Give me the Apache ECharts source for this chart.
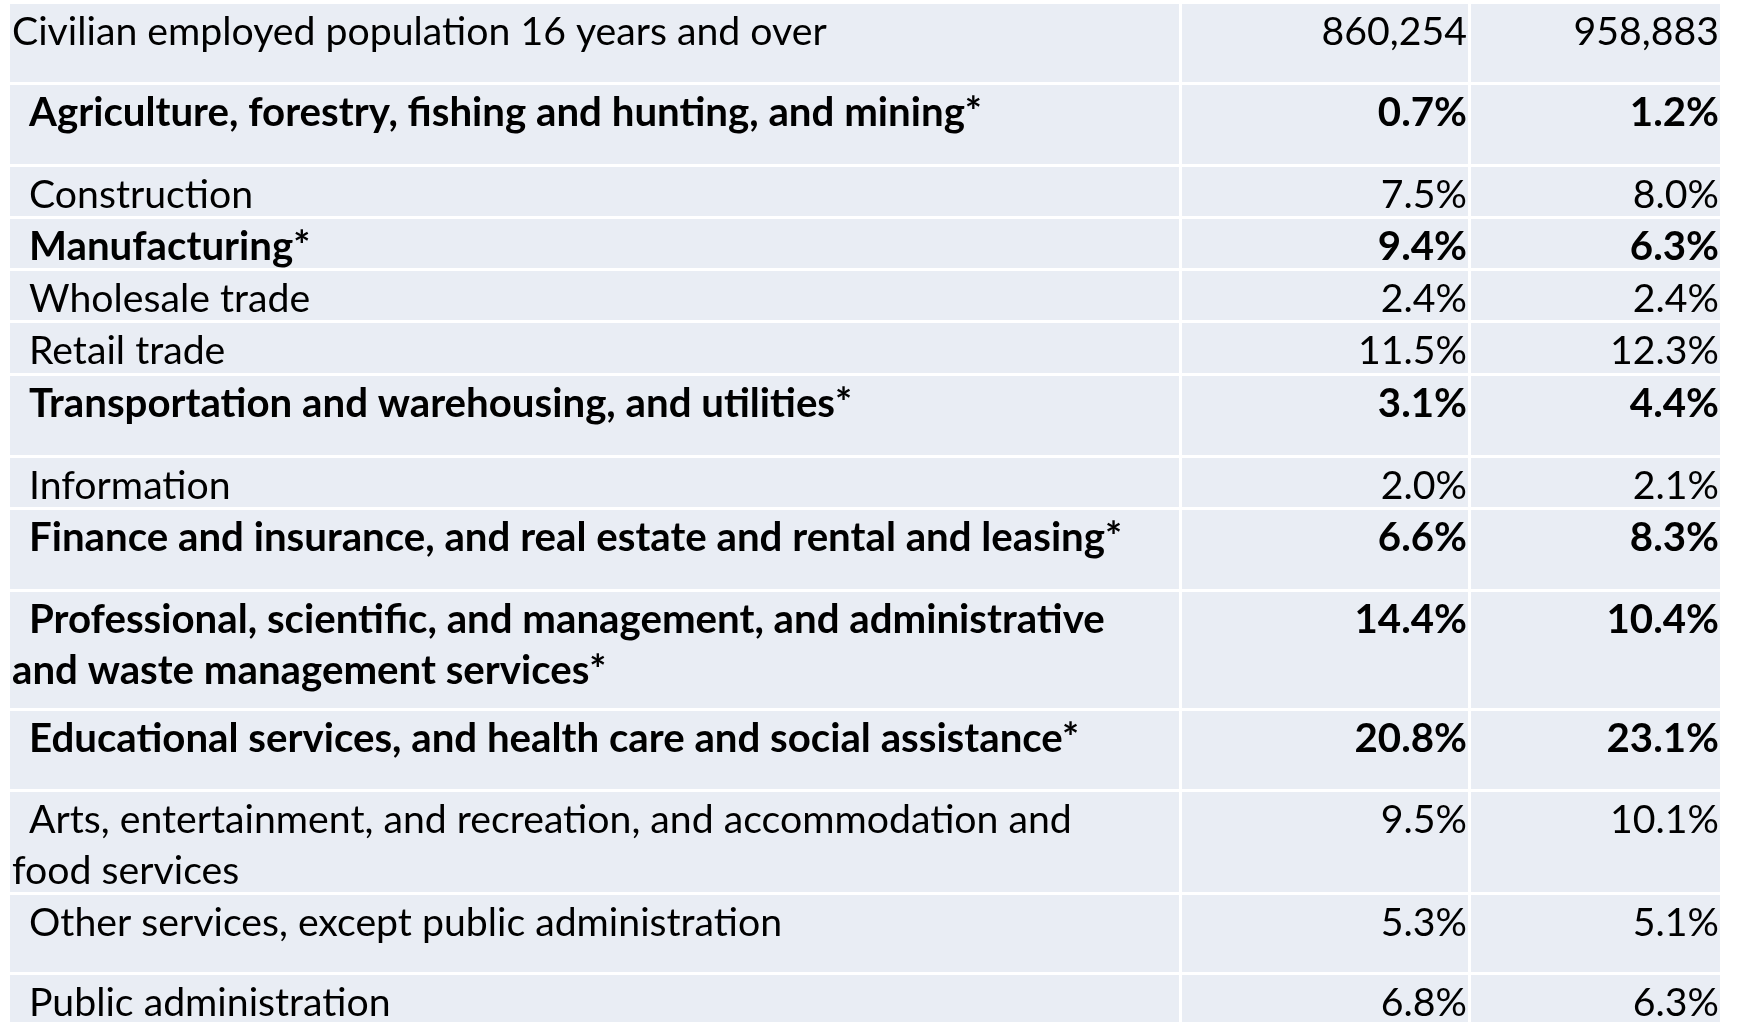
<!DOCTYPE html>
<html>
<head>
<meta charset="utf-8">
<title>Civilian employed population by industry</title>
<script src="https://cdn.jsdelivr.net/npm/echarts@6/dist/echarts.min.js"></script>
<style>
  html, body { margin: 0; padding: 0; background: #ffffff; }
  #main { width: 1739px; height: 1022px; }
</style>
</head>
<body>
<div id="main"></div>
<script>
  // row labels (first row is the total, "*" rows are shown bold)
  const labels = [
    'Civilian employed population 16 years and over',
    'Agriculture, forestry, fishing and hunting, and mining*',
    'Construction',
    'Manufacturing*',
    'Wholesale trade',
    'Retail trade',
    'Transportation and warehousing, and utilities*',
    'Information',
    'Finance and insurance, and real estate and rental and leasing*',
    'Professional, scientific, and management, and administrative\nand waste management services*',
    'Educational services, and health care and social assistance*',
    'Arts, entertainment, and recreation, and accommodation and\nfood services',
    'Other services, except public administration',
    'Public administration'
  ];
  // total employed, first and second column
  const employed = [860254, 958883];
  // industry shares (%), first column
  const shareFirst = [0.7, 7.5, 9.4, 2.4, 11.5, 3.1, 2.0, 6.6, 14.4, 20.8, 9.5, 5.3, 6.8];
  // industry shares (%), second column
  const shareSecond = [1.2, 8.0, 6.3, 2.4, 12.3, 4.4, 2.1, 8.3, 10.4, 23.1, 10.1, 5.1, 6.3];

  // layout: row pitch (incl. white gap), column edges, gap
  const rowPitch = [81, 82, 52, 52, 52, 53, 82, 52, 82, 119, 81, 103, 80, 53];
  const colEdges = [0, 1169, 1458, 1710];
  const GAP = 3;
  const LINE = 51;
  const VISIBLE = 1018; // part of the table inside the page (the last row runs off the bottom)

  //把字号调到和原图文字宽度一致
  function fitSize(text, weight, target) {
    const ctx = document.createElement('canvas').getContext('2d');
    ctx.font = weight + ' 100px Lato';
    return 100 * target / ctx.measureText(text).width;
  }
  const sizeNormal = fitSize(labels[0], 'normal', 815);
  const sizeBold = fitSize(labels[1], 'bold', 953);

  // cells: [yStart, yEnd, rowIndex]
  const rows = [];
  let acc = 0;
  rowPitch.forEach(function (h, i) {
    rows.push([acc, acc + h, i]);
    acc += h;
  });

  function cellText(i, c) {
    if (i === 0) return employed[c].toLocaleString('en-US');
    const v = c === 0 ? shareFirst[i - 1] : shareSecond[i - 1];
    return v.toFixed(1) + '%';
  }

  function renderItem(params, api) {
    const y0 = api.value(0), y1 = api.value(1), i = api.value(2);
    const top = api.coord([0, y0])[1];
    const bottom = api.coord([0, y1])[1] - GAP;
    const bold = labels[i].indexOf('*') >= 0;
    const font = {
      fontFamily: 'Lato',
      fontWeight: bold ? 'bold' : 'normal',
      fontSize: bold ? sizeBold : sizeNormal,
      fill: '#000000'
    };
    const children = [];
    for (let c = 0; c < 3; c++) {
      const x0 = api.coord([colEdges[c], 0])[0] + (c > 0 ? GAP : 0);
      const x1 = api.coord([colEdges[c + 1], 0])[0];
      children.push({
        type: 'rect',
        shape: { x: x0, y: top, width: x1 - x0, height: bottom - top },
        style: { fill: '#E9EDF4' }
      });
    }
    const left = api.coord([colEdges[0], 0])[0];
    labels[i].split('\n').forEach(function (line, j) {
      children.push({
        type: 'text',
        style: Object.assign({
          text: line,
          x: left + (j === 0 && i > 0 ? 19 : 2),
          y: top + 28 + j * LINE,
          align: 'left',
          verticalAlign: 'middle'
        }, font)
      });
    });
    for (let c = 0; c < 2; c++) {
      children.push({
        type: 'text',
        style: Object.assign({
          text: cellText(i, c),
          x: api.coord([colEdges[c + 2], 0])[0] - 1,
          y: top + 28,
          align: 'right',
          verticalAlign: 'middle'
        }, font)
      });
    }
    return { type: 'group', children: children };
  }

  const mychart = echarts.init(document.getElementById('main'));
  mychart.setOption({
    animation: false,
    grid: { left: 10, top: 4, width: colEdges[3], height: VISIBLE },
    xAxis: { type: 'value', min: 0, max: colEdges[3], show: false },
    yAxis: { type: 'value', min: 0, max: VISIBLE, inverse: true, show: false },
    series: [{
      type: 'custom',
      renderItem: renderItem,
      clip: false,
      encode: { x: -1, y: [0, 1] },
      data: rows
    }]
  });
</script>
</body>
</html>
